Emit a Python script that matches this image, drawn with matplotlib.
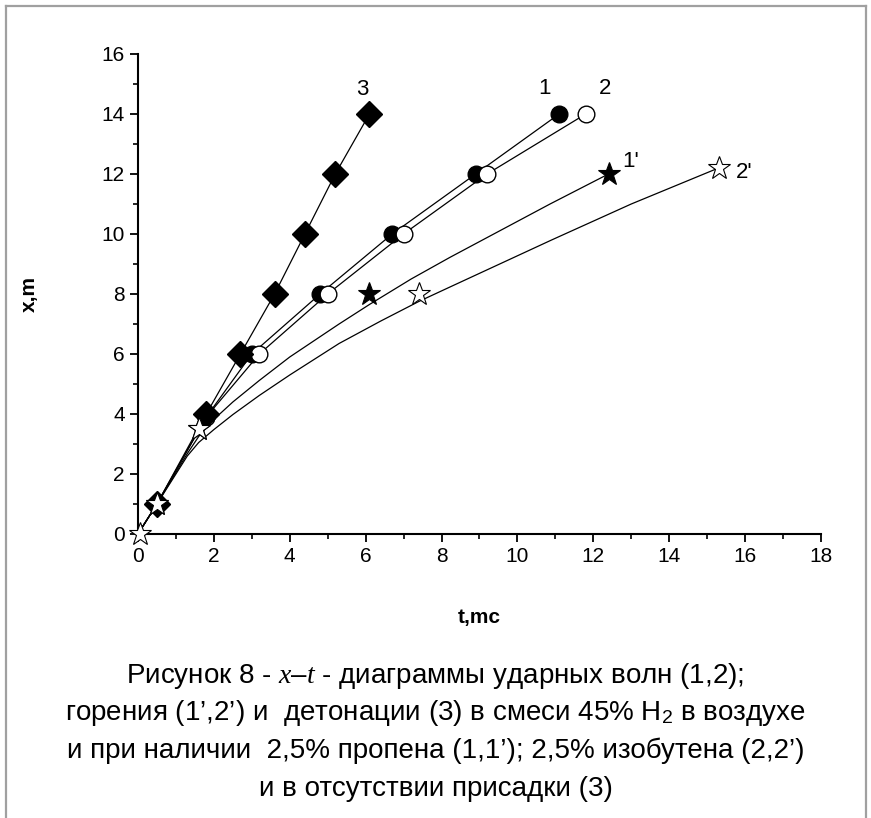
import matplotlib
matplotlib.use('Agg')
import matplotlib.pyplot as plt
from matplotlib import font_manager
from matplotlib.lines import Line2D

# ---- data ----
# 3 - detonation, no additive
t3 = [0.0, 0.5, 1.8, 2.7, 3.6, 4.4, 5.2, 6.1]
x3 = [0, 1, 4, 6, 8, 10, 12, 14]
# 1 - shock wave, 2.5% propene
t1 = [0.0, 0.5, 1.8, 3.0, 4.8, 6.7, 8.9, 11.1]
x1 = [0, 1, 3.9, 6, 8, 10, 12, 14]
# 2 - shock wave, 2.5% isobutene
t2 = [0.0, 0.5, 1.8, 3.2, 5.0, 7.0, 9.2, 11.8]
x2 = [0, 1, 3.9, 6, 8, 10, 12, 14]
# 1' - flame, 2.5% propene (points)
t1p = [0.0, 0.5, 1.6, 6.1, 12.4]
x1p = [0, 1, 3.5, 8, 12]
# 2' - flame, 2.5% isobutene (points)
t2p = [0.05, 0.5, 1.6, 7.4, 15.3]
x2p = [0, 1, 3.5, 8, 12.2]
# smooth fitted lines for 1' and 2' as traced on the picture
t1p_fit = [0.0, 0.5, 1.0, 1.3, 1.6, 2.0, 2.5, 3.2, 4.0, 5.3, 6.1, 7.2, 8.22, 10.86, 12.4]
x1p_fit = [0.0, 1.0, 2.05, 2.68, 3.25, 3.82, 4.4, 5.12, 5.9, 7.0, 7.65, 8.5, 9.22, 11.0, 12.0]
t2p_fit = [0.0, 0.5, 1.0, 1.3, 1.6, 2.0, 2.5, 3.2, 4.0, 5.3, 6.4, 7.4, 8.2, 10.9, 13.0, 15.3]
x2p_fit = [0.0, 1.0, 2.0, 2.6, 3.05, 3.48, 3.98, 4.62, 5.3, 6.35, 7.1, 7.75, 8.22, 9.8, 11.0, 12.2]

labels = ['3', '1', '2', "1'", "2'"]
label_pos = [(5.75, 14.45), (10.55, 14.5), (12.15, 14.5), (12.75, 12.05), (15.75, 11.7)]

caption = [r"Рисунок 8 - $x$–$t$ - диаграммы ударных волн (1,2);",
           r"горения (1’,2’) и  детонации (3) в смеси 45% H$_2$ в воздухе",
           r"и при наличии  2,5% пропена (1,1’); 2,5% изобутена (2,2’)",
           r"и в отсутствии присадки (3)"]

# ---- fonts ----
def have(name):
    try:
        font_manager.findfont(name, fallback_to_default=False)
        return True
    except Exception:
        return False

narrow = 'Liberation Sans Narrow' if have('Liberation Sans Narrow') else 'Liberation Sans'
plt.rcParams['font.family'] = ['Liberation Sans', 'DejaVu Sans']
plt.rcParams['mathtext.fontset'] = 'custom'
plt.rcParams['mathtext.rm'] = narrow
plt.rcParams['mathtext.it'] = 'Liberation Serif:italic'

fig = plt.figure(figsize=(8.71, 8.18), dpi=100)
ax = fig.add_axes([0.1584, 0.3472, 0.7842, 0.5868])

lw = 0.9
ax.plot(t2p_fit, x2p_fit, color='black', lw=lw, zorder=2)
ax.plot(t1p_fit, x1p_fit, color='black', lw=lw, zorder=2)
ax.plot(t2, x2, color='black', lw=lw, zorder=2)
ax.plot(t1, x1, color='black', lw=lw, zorder=2)
ax.plot(t3, x3, color='black', lw=lw, zorder=2)

# markers (the origin point is only marked for curve 2')
ax.plot(t1[1:], x1[1:], 'o', ms=12, mfc='black', mec='black', mew=1, zorder=3, clip_on=False)
ax.plot(t2[1:], x2[1:], 'o', ms=12, mfc='white', mec='black', mew=1, zorder=4, clip_on=False)
ax.plot(t3[1:], x3[1:], 'D', ms=13, mfc='black', mec='black', mew=1, zorder=5, clip_on=False)
ax.plot(t1p[1:], x1p[1:], '*', ms=17, mfc='black', mec='black', mew=0.8, zorder=6, clip_on=False)
ax.plot(t2p, x2p, '*', ms=17, mfc='white', mec='black', mew=0.8, zorder=7, clip_on=False)

for lab, (tx, ty) in zip(labels, label_pos):
    ax.text(tx, ty, lab, fontsize=16, ha='left', va='bottom')

ax.set_xlim(0, 18)
ax.set_ylim(0, 16)
ax.set_xticks(range(0, 19, 2))
ax.set_yticks(range(0, 17, 2))
ax.set_xticks(range(1, 18, 2), minor=True)
ax.set_yticks(range(1, 16, 2), minor=True)
for s in ['top', 'right']:
    ax.spines[s].set_visible(False)
for s in ['left', 'bottom']:
    ax.spines[s].set_linewidth(1.5)
ax.tick_params(which='major', direction='out', length=6, width=1.3, labelsize=15)
ax.tick_params(which='minor', direction='out', length=3.5, width=1.2)
ax.set_xlabel('t,mc', fontsize=15, fontweight='bold', labelpad=30)
ax.set_ylabel('x,m', fontsize=15, fontweight='bold', labelpad=45)

for i, line in enumerate(caption):
    fig.text(0.5, 1 - (676 + 37.5 * i) / 818, line, ha='center', va='center',
             fontsize=20, family=[narrow, 'DejaVu Sans'])

# gray page frame
fc = '#a0a0a0'
fig.add_artist(Line2D([6 / 871, 6 / 871], [0, 1 - 6 / 818], color=fc, lw=1.6, transform=fig.transFigure))
fig.add_artist(Line2D([866 / 871, 866 / 871], [0, 1 - 6 / 818], color=fc, lw=1.6, transform=fig.transFigure))
fig.add_artist(Line2D([6 / 871, 866 / 871], [1 - 6 / 818, 1 - 6 / 818], color=fc, lw=1.6, transform=fig.transFigure))

fig.savefig('out.png', dpi=100)
